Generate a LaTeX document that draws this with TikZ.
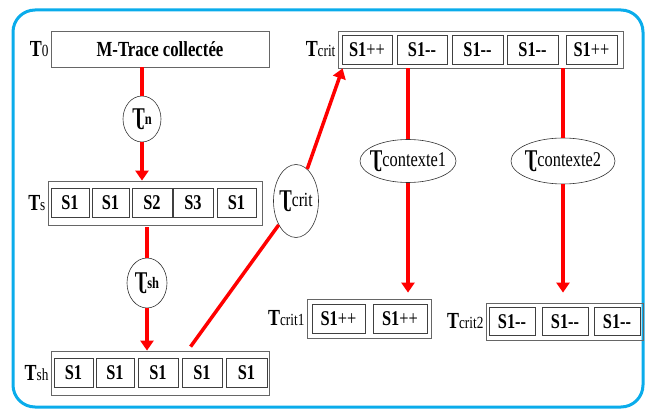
\documentclass[tikz,border=0pt]{standalone}
\usepackage{fontspec}
\setmainfont[FakeStretch=0.78]{Liberation Serif}
\usetikzlibrary{shapes.geometric,arrows.meta,positioning}

\definecolor{frameblue}{RGB}{10,172,235}
\newcommand{\tlab}[1]{{\fontsize{23}{25}\selectfont\bfseries T}{\fontsize{17}{19}\selectfont #1}}
\newcommand{\hk}{{\fontsize{24}{26}\selectfont\bfseries Ʈ}}
\newcommand{\ov}[1]{\makebox[0pt]{#1}}

\tikzset{
  cell/.style={draw=black!75, line width=0.8pt, minimum width=#1, minimum height=29pt,
    inner sep=0pt, font=\fontsize{21}{23}\selectfont\bfseries},
  row/.style={draw=black!60, line width=0.8pt, inner sep=0pt},
  lbl/.style={inner sep=2pt},
  oval/.style={ellipse, draw=black!80, line width=0.6pt, inner sep=0pt},
  redline/.style={draw=red, line width=3.5pt},
  redarrow/.style={redline, -{Triangle[width=13pt,length=10pt]}},
}

\begin{document}
\begin{tikzpicture}[x=1pt,y=-1pt]
   \useasboundingbox (0,0) rectangle (646,409);
   \draw[frameblue, line width=3pt, rounded corners=22pt] (13,10) rectangle (643,407);

   % trace initiale
   \node[row, minimum width=218pt, minimum height=36pt,
     font=\fontsize{21.5}{23}\selectfont\bfseries] (t0) at (160,49) {M-Trace collectée};
   \node[lbl, anchor=east] (t0lab) at (t0.west) {\tlab{0}};

   % Ts
   \node[row, minimum width=214pt, minimum height=44pt] (tsrow) at (155,203) {};
   \foreach \x/\w/\t [count=\i] in {70/38/S1, 110.5/37/S1, 152/40/S2, 193/40/S3, 236.5/39/S1}
     \node[cell=\w pt] (ts\i) at (\x,203) {\t};
   \node[lbl, anchor=east] (tslab) at (tsrow.west) {\tlab{s}};

   % Tsh
   \node[row, minimum width=218pt, minimum height=44pt] (tshrow) at (160,373) {};
   \foreach \x/\w/\t [count=\i] in {73.5/39/S1, 115/38/S1, 158/40/S1, 202/40/S1, 246.5/41/S1}
     \node[cell=\w pt] (tsh\i) at (\x,373) {\t};
   \node[lbl, anchor=east] (tshlab) at (tshrow.west) {\tlab{sh}};

   % Tcrit
   \node[row, minimum width=285pt, minimum height=37pt] (tcritrow) at (480.5,49.5) {};
   \foreach \x/\w/\t [count=\i] in {367/50/S1{\mdseries++}, 422/50/S1-{}-, 477.5/51/S1-{}-, 532.5/51/S1-{}-, 591.5/51/S1{\mdseries++}}
     \node[cell=\w pt] (tcrit\i) at (\x,49.5) {\t};
   \node[lbl, anchor=east] (tcritlab) at (tcritrow.west) {\tlab{crit}};

   % Tcrit1
   \node[row, minimum width=124pt, minimum height=39pt] (tcritArow) at (369,318.5) {};
   \foreach \x/\w/\t [count=\i] in {338.5/53/S1{\mdseries++}, 400/54/S1{\mdseries++}}
     \node[cell=\w pt] (tcritA\i) at (\x,318.5) {\t};
   \node[lbl, anchor=east] (tcritAlab) at (tcritArow.west) {\tlab{crit1}};

   % Tcrit2
   \node[row, minimum width=157pt, minimum height=37pt] (tcritBrow) at (564.5,321.5) {};
   \foreach \x/\w/\t [count=\i] in {512/46/S1-{}-, 565/46/S1-{}-, 617/46/S1-{}-}
     \node[cell=\w pt, minimum height=28pt] (tcritB\i) at (\x,321.5) {\t};
   \node[lbl, anchor=east] (tcritBlab) at (tcritBrow.west) {\tlab{crit2}};

   % transformations
   \node[oval, minimum width=38pt, minimum height=46pt] (tn) at (142,119)
     {\ov{\hk{\fontsize{16}{18}\selectfont\bfseries n}}};
   \node[oval, minimum width=40pt, minimum height=50pt] (tsh) at (147,283)
     {\ov{\hk{\fontsize{16}{18}\selectfont\bfseries sh}}};
   \node[oval, minimum width=45pt, minimum height=73pt] (tc) at (296,201)
     {\ov{\hk{\fontsize{20}{22}\selectfont crit}}};
   \node[oval, minimum width=96pt, minimum height=43pt] (tc1) at (408,161)
     {\ov{\hk{\fontsize{21}{23}\selectfont contexte1}}};
   \node[oval, minimum width=104pt, minimum height=46pt] (tc2) at (563,161)
     {\ov{\hk{\fontsize{21}{23}\selectfont contexte2}}};

   % connecteurs
   \draw[redline] (t0.south -| tn) -- (tn);
   \draw[redarrow] (tn) -- (tn |- tsrow.north);
   \draw[redline] ([yshift=-2pt]tsrow.south -| tsh) -- (tsh);
   \draw[redarrow] (tsh) -- (tsh |- tshrow.north);
   \draw[redline] ([shift={(9pt,4pt)}]tshrow.north -| tsh4.west) -- (tc);
   \draw[redarrow] (tc) -- ([xshift=5pt]tcritrow.south west);
   \draw[redline] (tcritrow.south -| tc1) -- (tc1);
   \draw[redarrow, shorten >=6pt] (tc1) -- (tc1 |- tcritArow.north);
   \draw[redline] (tcritrow.south -| tc2) -- (tc2);
   \draw[redarrow, shorten >=10pt] (tc2) -- (tc2 |- tcritBrow.north);
\end{tikzpicture}
\end{document}
